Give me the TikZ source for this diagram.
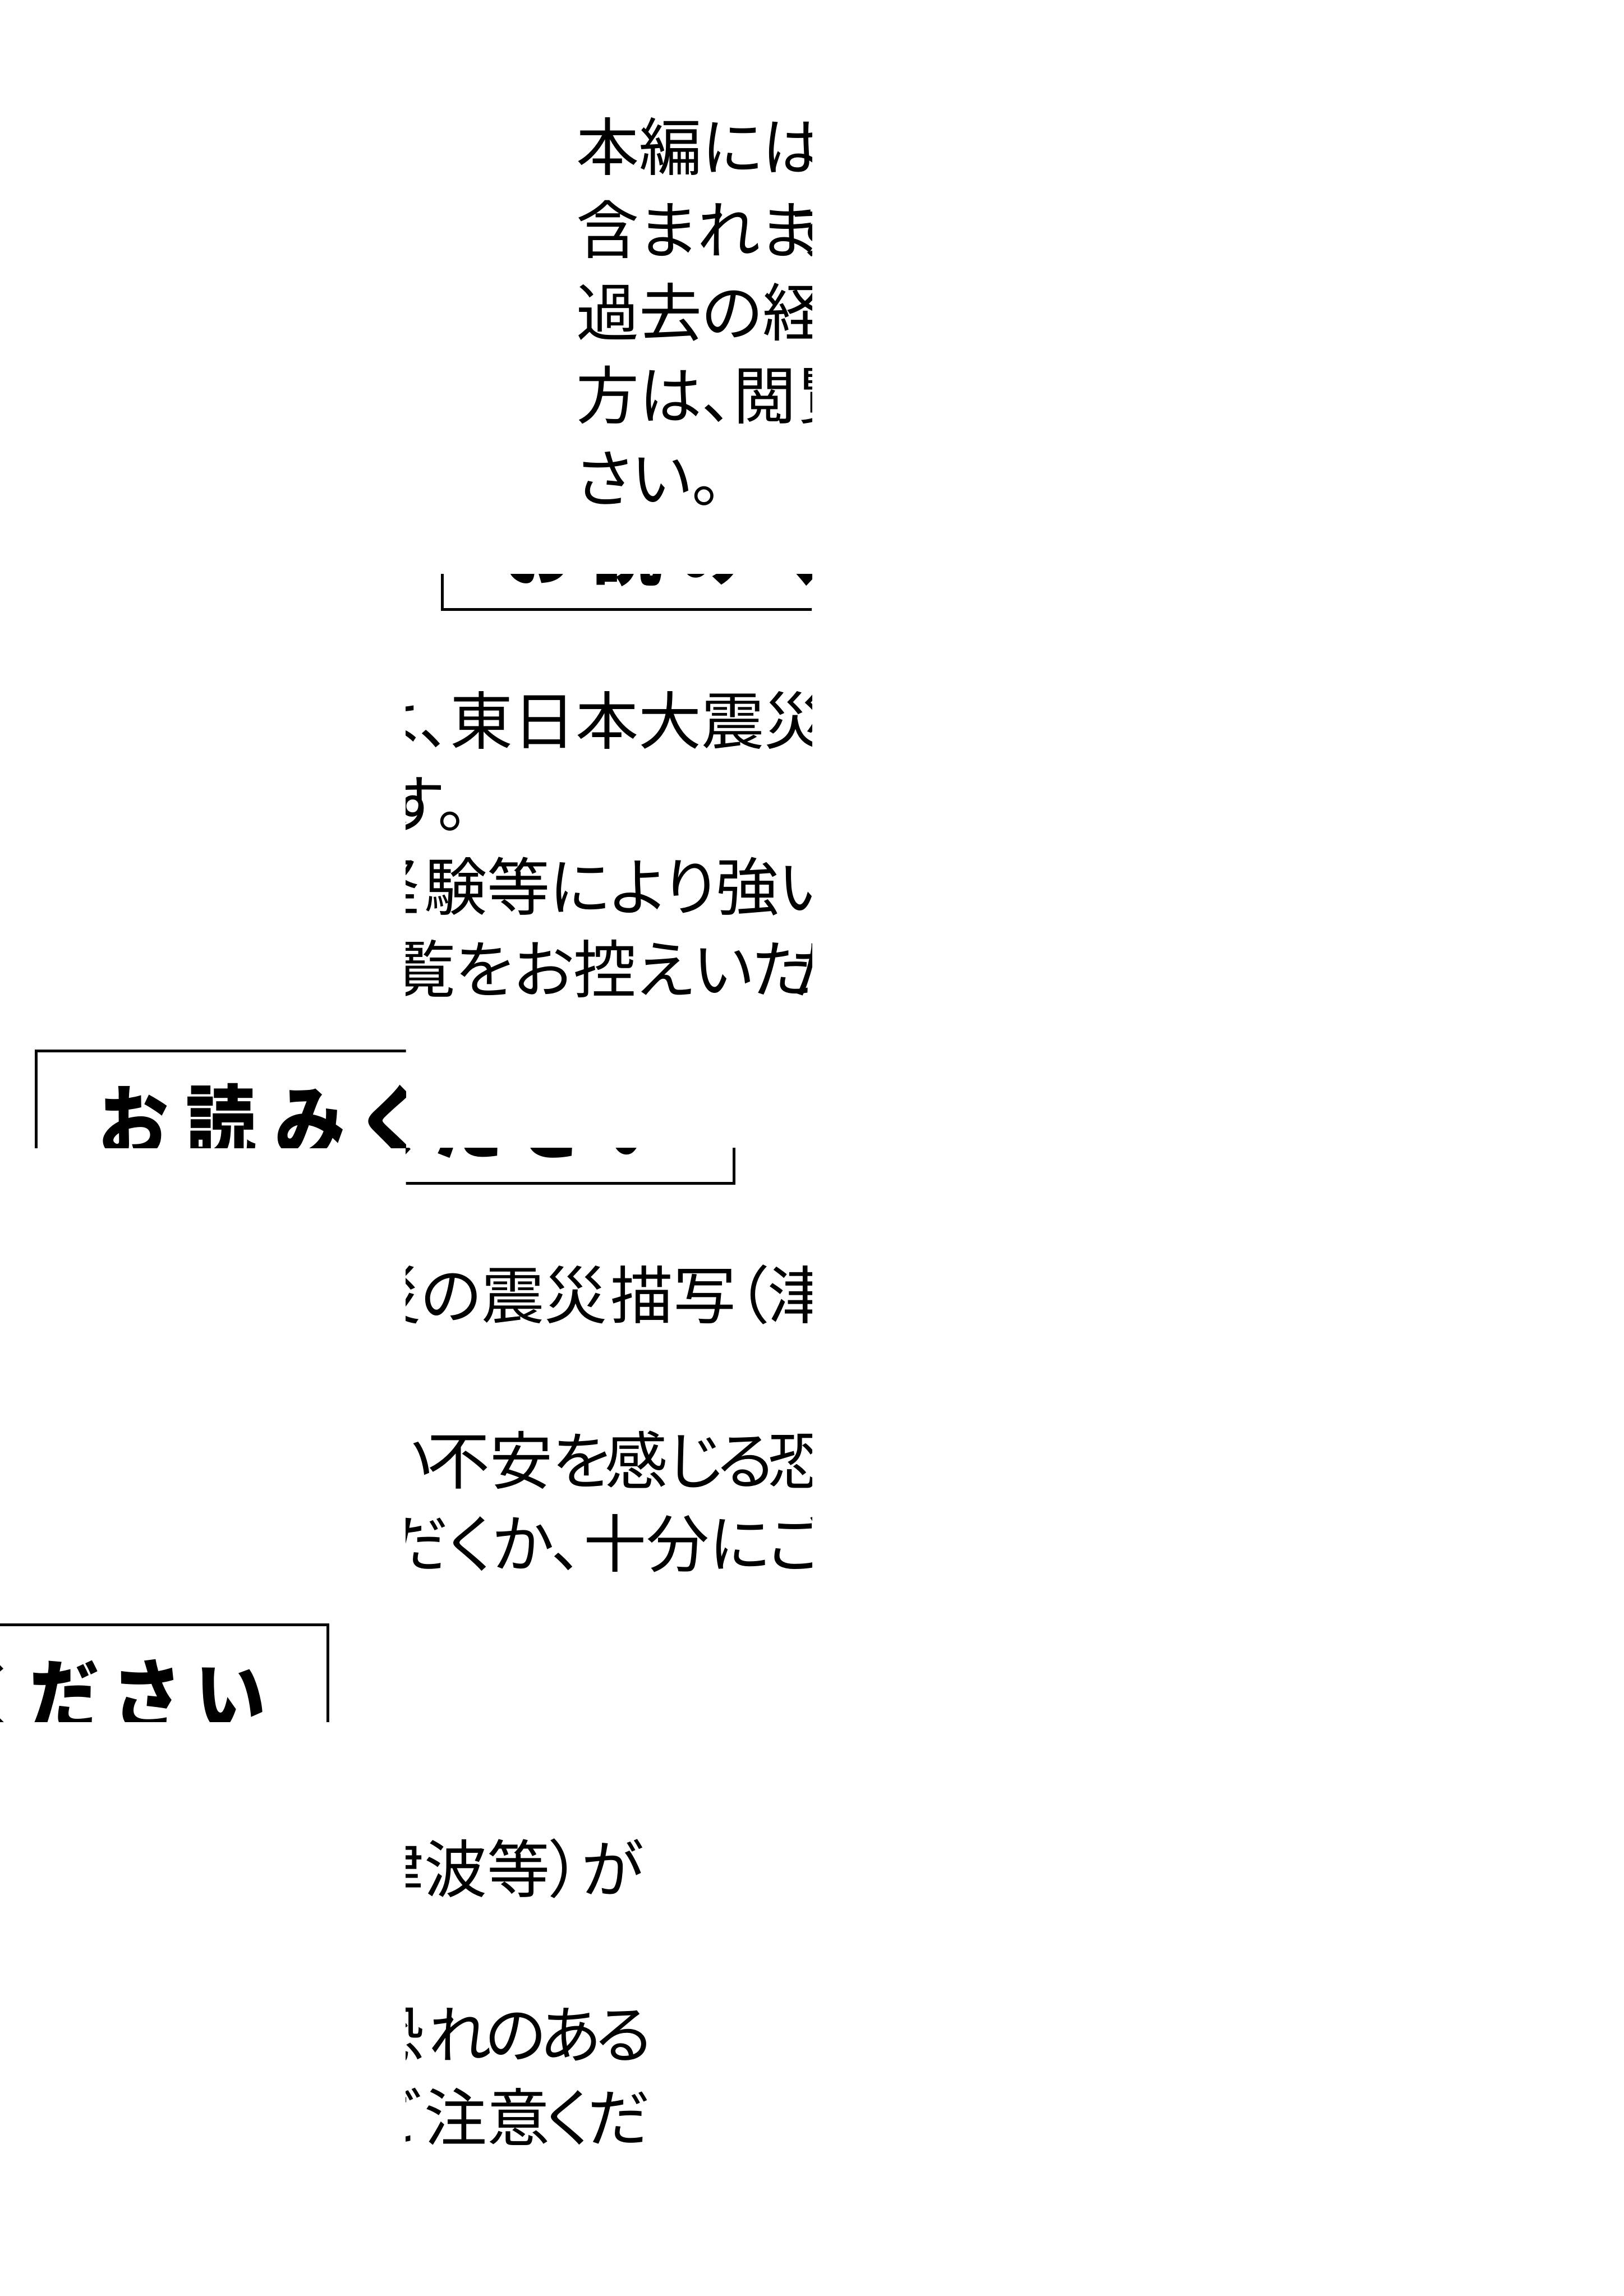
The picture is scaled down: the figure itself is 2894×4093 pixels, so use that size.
\documentclass[tikz,border=0pt]{standalone}
\usepackage{fontspec}
\newfontfamily\jpbody{Noto Sans CJK JP}[RawFeature=+palt]
\newfontfamily\jptitle{Noto Sans CJK JP}[RawFeature=+palt, FakeStretch=0.87]
\newcommand\tls{\kern8.5pt}% title letter spacing
\newcommand\nk{\kern-2.5pt}% slight tightening of body kana
\tikzset{
  bodytxt/.style={inner sep=0pt, outer sep=0pt, text=black,
    font=\jpbody\fontsize{28pt}{28pt}\selectfont},
  titletxt/.style={inner sep=0pt, outer sep=0pt, text=black,
    font=\jptitle\bfseries\fontsize{36pt}{36pt}\selectfont},
  noticebox/.style={draw=black, line width=1.25pt},
}
% the whole notice page, in its own (un-tiled) coordinates, pixel units, y downwards
\newcommand\origcontent[1]{%
  \draw[noticebox] (788,850) rectangle (2031.5,1086);
  \node[titletxt, anchor=base] (title#1) at (1410,1031)
    {お\tls 読\tls み\tls く\tls だ\tls さ\tls い};
  % line 1
  \node[bodytxt, anchor=base west] (la#1) at (303.5,1326.75) {本編には、};
  \node[bodytxt, anchor=base west] (lb#1) at (802,1326.75) {東日本大震災の震災};
  \node[bodytxt, anchor=base west] (lc#1) at (1811.5,1326.75) {描写（津波等）が};
  % line 2
  \node[bodytxt, anchor=base west] (ma#1) at (303.5,1474.45) {含まれま};
  \node[bodytxt, anchor=base west] (mb#1) at (689,1474.45) {す。};
  % line 3
  \node[bodytxt, anchor=base west] (na#1) at (303.5,1622.15) {過去の経};
  \node[bodytxt, anchor=base west] (nb#1) at (756,1622.15) {験等により};
  \node[bodytxt, anchor=base west] (nc#1) at (1276,1622.15) {強い};
  \node[bodytxt, anchor=base west] (nd#1) at (1484.5,1622.15) {不安を\nk 感じ\nk る};
  \node[bodytxt, anchor=base west] (nf#1) at (2091.5,1622.15) {恐};
  \node[bodytxt, anchor=base west] (ne#1) at (2210,1622.15) {れ\nk の\nk あ\nk る};
  % line 4
  \node[bodytxt, anchor=base west] (oa#1) at (303.5,1769.85) {方は、閲};
  \node[bodytxt, anchor=base west] (ob#1) at (700,1769.85) {覧をお控えいた};
  \node[bodytxt, anchor=base east] (oc#1) at (1763.5,1769.85) {だくか、};
  \node[bodytxt, anchor=base west] (od#1) at (1763.5,1769.85) {十分にご};
  \node[bodytxt, anchor=base west] (oe#1) at (2203,1769.85) {注意\kern-1.25pt く\kern-1.25pt だ};
  % line 5
  \node[bodytxt, anchor=base west] (pa#1) at (303.5,1917.55) {さい。};
}
\begin{document}
\begin{tikzpicture}[x=0.25pt,y=-0.25pt]
  \fill[white] (0,0) rectangle (2894,4093);
  \useasboundingbox (0,0) rectangle (2894,4093);
  % tile (1,0) <- original tile (0,1)
  \begin{scope}
    \clip (723.5,0) rectangle (1447,1023.25);
    \begin{scope}[shift={(723.5,-1023.25)}]\origcontent{A}\end{scope}
  \end{scope}
  % tile (1,1) <- original tile (1,1)
  \begin{scope}
    \clip (723.5,1023.25) rectangle (1447,2046.5);
    \origcontent{B}
  \end{scope}
  % tile (0,1) <- original tile (1,0)
  \begin{scope}
    \clip (0,1023.25) rectangle (723.5,2046.5);
    \begin{scope}[shift={(-723.5,1023.25)}]\origcontent{C}\end{scope}
  \end{scope}
  % tile (1,2) <- original tile (2,1)
  \begin{scope}
    \clip (723.5,2046.5) rectangle (1447,3069.75);
    \begin{scope}[shift={(-723.5,1023.25)}]\origcontent{D}\end{scope}
  \end{scope}
  % tile (0,2) <- original tile (2,0)
  \begin{scope}
    \clip (0,2046.5) rectangle (723.5,3069.75);
    \begin{scope}[shift={(-1447,2046.5)}]\origcontent{E}\end{scope}
  \end{scope}
  % tile (1,3) <- original tile (3,1)
  \begin{scope}
    \clip (723.5,3069.75) rectangle (1447,4093);
    \begin{scope}[shift={(-1447,2046.5)}]\origcontent{F}\end{scope}
  \end{scope}
\end{tikzpicture}
\end{document}
